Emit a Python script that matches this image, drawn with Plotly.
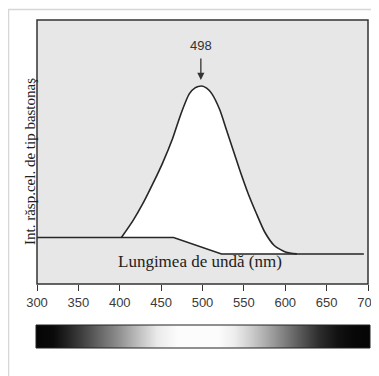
import plotly.graph_objects as go
import numpy as np

# Rod response curve (wavelength nm, relative response)
wl_curve = [402, 416, 428, 440, 452, 464, 474, 484, 491, 499, 505, 511, 521, 529, 537, 545,
            555, 565, 575, 587, 601, 614]
resp_curve = [0.176, 0.240, 0.305, 0.380, 0.460, 0.552, 0.645, 0.720, 0.743, 0.750, 0.742,
              0.722, 0.659, 0.583, 0.508, 0.432, 0.344, 0.268, 0.198, 0.145, 0.120, 0.114]

# Baseline
wl_base = [300, 465, 523, 695]
resp_base = [0.176, 0.176, 0.114, 0.114]

# Brightness strip
wl_bar = [300, 320, 336, 356, 376, 396, 416, 445, 470, 517, 537, 557, 578, 606, 638, 660, 680, 700]
bright_bar = [0.02, 0.04, 0.13, 0.26, 0.40, 0.54, 0.70, 0.92, 0.99, 0.99, 0.93, 0.80, 0.65, 0.42,
              0.18, 0.07, 0.03, 0.02]

peak_label = "498"
peak_wl = 498
x_ticks = [300, 350, 400, 450, 500, 550, 600, 650, 700]

# page body has an 8px margin: the figure starts at (8, 8) of the window
OFF = 8
W, H = 379 - OFF, 376 - OFF
def px(x):
    return (x - OFF) / W
def py(y):
    return 1 - (y - OFF) / H

base_interp = np.interp(wl_curve, wl_base, resp_base)
fill_x = list(wl_curve) + list(wl_curve[::-1])
fill_y = list(resp_curve) + list(base_interp[::-1])

fig = go.Figure()
fig.add_trace(go.Scatter(x=fill_x, y=fill_y, fill='toself', fillcolor='white',
                         line=dict(width=0), mode='lines', hoverinfo='skip', showlegend=False))
fig.add_trace(go.Scatter(x=wl_base, y=resp_base, mode='lines',
                         line=dict(color='#262626', width=1.5), showlegend=False))
fig.add_trace(go.Scatter(x=wl_curve, y=resp_curve, mode='lines',
                         line=dict(color='#262626', width=1.6, shape='spline', smoothing=0.6),
                         showlegend=False))
fig.add_trace(go.Heatmap(x=wl_bar, y=[0], z=[bright_bar], colorscale=[[0, 'black'], [1, 'white']],
                         zmin=0, zmax=1, zsmooth='best', showscale=False,
                         xaxis='x2', yaxis='y2'))

fig.update_layout(
    template='none',
    width=W, height=H, autosize=False,
    margin=dict(l=0, r=0, t=0, b=0, autoexpand=False),
    paper_bgcolor='white', plot_bgcolor='#e7e7e7',
    xaxis=dict(domain=[px(37), px(368)], range=[300, 700], tickvals=x_ticks, automargin=False,
               ticks='outside', ticklen=6, tickwidth=1.3, tickcolor='#333',
               showgrid=False, zeroline=False, showline=False,
               tickfont=dict(family='Liberation Sans', size=13, color='#3a3a3a')),
    yaxis=dict(domain=[py(284), py(20)], range=[0, 1], showticklabels=False, automargin=False,
               showgrid=False, zeroline=False, showline=False, ticks=''),
    xaxis2=dict(domain=[px(36), px(370)], range=[300, 700], anchor='y2', visible=False, automargin=False),
    yaxis2=dict(domain=[py(348), py(325)], range=[-0.5, 0.5], anchor='x2', visible=False, automargin=False),
    shapes=[
        dict(type='rect', xref='paper', yref='paper', x0=px(37), x1=px(368), y0=py(284), y1=py(20),
             line=dict(color='#333', width=1.5)),
        dict(type='rect', xref='paper', yref='paper', x0=px(36), x1=px(370), y0=py(348), y1=py(325),
             line=dict(color='#222', width=1)),
        dict(type='rect', xref='paper', yref='paper', x0=px(8.5), x1=1.05, y0=-0.05, y1=py(9.5),
             line=dict(color='#d6d6d6', width=1.5)),
    ],
    annotations=[
        dict(x=peak_wl, y=(284 - 45) / 264, xref='x', yref='y', text=peak_label, showarrow=False,
             font=dict(family='Liberation Sans', size=13, color='#333')),
        dict(x=peak_wl, y=(284 - 80) / 264, xref='x', yref='y', ax=peak_wl, ay=(284 - 57) / 264,
             axref='x', ayref='y', text='', showarrow=True, arrowhead=2, arrowsize=1.1,
             arrowwidth=1.3, arrowcolor='#333'),
        dict(x=px(200), y=py(273), xref='paper', yref='paper', text='Lungimea de undă (nm)',
             showarrow=False, font=dict(family='Liberation Serif', size=17, color='#222')),
        dict(x=px(20), y=py(162), xref='paper', yref='paper', text='Int. răsp.cel. de tip bastonaş',
             showarrow=False, textangle=-90, font=dict(family='Liberation Serif', size=15, color='#222')),
    ],
)

fig.write_html("out.html")
